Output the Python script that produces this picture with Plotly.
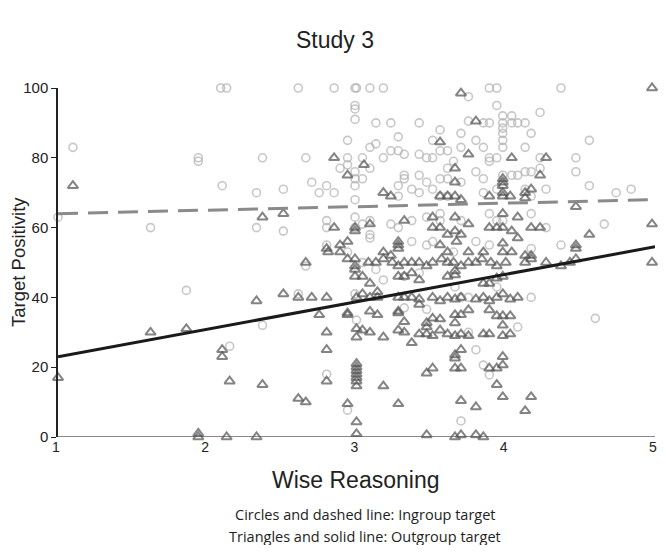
import plotly.graph_objects as go

# Ingroup target (circles)
in_x = [1.0,1.1,1.62,1.94,1.94,2.09,2.13,2.10,2.33,2.33,2.37,2.51,2.51,2.61,2.66,2.70,2.75,2.80,2.80,2.80,2.80,2.85,2.85,
        1.86,2.15,2.37,2.61,2.66,2.80,
        2.99,3.0,3.09,3.18,2.99,2.99,2.99,3.13,3.23,2.94,3.13,3.09,3.28,3.23,3.28,3.32,3.18,2.94,3.04,2.89,2.94,3.09,2.99,3.04,2.99,3.32,3.32,
        2.99,3.28,3.37,2.99,3.28,2.99,2.99,3.04,3.09,3.09,3.09,3.23,3.28,3.37,2.94,3.37,
        3.89,3.94,3.75,3.94,3.42,3.75,3.85,3.89,3.98,4.04,3.98,4.04,4.08,4.13,3.98,3.98,3.56,3.70,3.51,3.56,3.61,3.80,3.98,3.98,3.85,3.70,4.13,
        3.42,3.47,3.51,3.65,3.61,3.89,3.89,3.94,3.80,3.85,3.98,4.04,4.08,3.42,3.47,3.56,3.61,3.70,3.42,3.94,3.56,3.61,3.51,3.85,4.13,
        3.47,3.56,3.56,3.70,3.89,3.94,3.98,3.80,3.47,3.51,3.65,3.89,
        4.37,4.23,4.17,4.56,4.23,4.47,4.17,4.23,4.47,4.13,4.56,4.27,4.17,4.74,4.84,4.17,4.27,4.66,4.17,4.37,
        3.04,3.13,3.18,3.32,2.99,3.0,2.94,
        3.42,3.66,3.94,3.70,3.75,3.32,3.47,4.08,3.75,3.80,3.85,3.89,3.70,
        4.17,4.60]
in_y = [63,83,60,80,79,100,100,72,70,60,80,71,59,100,80,73,70,72,62,60,55,100,70,
        42,26,32,41,49,18,
        100,100,100,100,95,94,91,90,90,85,84,83,86,82,82,81,80,80,80,77,78,77,76,74,74,75,74,
        72,72,71,68,69,63,60,61,62,58,57,61,60,62,53,56,
        100,100,97.5,95,90,90.5,90,90,92,92,90,90,90,90,88.5,87,88,87,85,82,82,85,85,83,83,83,83,
        81,80,80,79,77,80,79,80,76,74,75,75,75,75,73,74,74,73,70,71,69,69,71,70,71,
        63,64,62,62,64,62,62,56,55,56,53,55,
        100,93,87,85,80,80,76,77,76,76,72,71,69,70,71,64,60,61,54,55,
        50,48,45,46,41,33.5,7.7,
        47,43,43,40,40,37,36.6,31.5,30,25,20.6,17.8,4.6,
        40,34]

# Outgroup target (triangles)
out_x = [1.10,2.37,2.51,2.66,2.80,2.85,2.85,
         1.0,1.62,1.86,1.94,1.94,2.10,2.10,2.15,2.13,2.33,2.33,2.37,2.51,2.61,2.61,2.66,2.70,2.75,2.80,2.80,2.80,2.80,
         3.05,2.94,3.18,3.23,2.99,2.99,3.09,3.32,3.28,3.28,3.28,2.89,3.18,3.23,
         3.70,3.80,3.56,3.75,4.04,3.66,3.66,3.98,3.98,3.98,3.98,3.56,3.61,3.66,3.70,3.89,3.98,4.03,4.13,4.13,
         3.51,3.66,3.98,4.08,3.51,3.56,3.61,3.66,3.70,3.75,3.89,3.94,3.98,4.04,4.08,3.98,3.56,3.61,3.75,3.85,3.98,4.04,4.17,
         4.98,4.27,4.23,4.17,4.47,4.23,4.56,4.47,4.47,4.98,4.13,4.17,
         2.81,2.89,2.94,3.67,
         2.94,2.99,3.08,3.13,3.18,3.24,3.28,3.32,3.37,3.42,3.47,3.51,3.57,3.61,3.65,3.70,3.75,3.80,3.84,3.90,3.94,4.00,4.13,4.17,4.27,4.37,4.43,4.47,4.98,
         2.99,2.99,2.99,3.04,3.09,3.14,3.28,3.32,
         3.0,3.04,3.09,3.14,3.28,3.32,3.37,
         2.94,2.94,3.09,3.14,3.28,3.28,3.32,
         3.0,3.04,3.09,3.18,3.28,3.32,3.0,3.37,
         3.0,3.0,3.0,3.0,3.0,3.0,3.0,3.18,2.94,3.28,3.0,3.0,
         3.66,3.66,3.37,3.42,3.61,3.89,3.94,3.98,3.85,
         3.42,3.51,3.56,3.61,3.66,3.70,3.80,3.85,3.89,3.94,3.98,4.03,4.08,
         3.42,3.75,3.89,3.51,3.56,3.47,3.47,3.66,3.70,3.66,3.94,3.98,4.03,3.56,
         3.42,3.47,3.51,3.61,3.66,3.70,3.75,3.85,3.89,3.98,3.98,4.03,
         3.70,3.66,3.66,3.98,3.98,3.47,3.51,3.66,3.70,3.89,3.94,3.94,3.98,4.17,3.70,3.80,4.13,
         3.47,3.66,3.70,3.80,3.85,
         4.13,4.23,4.37,4.66,4.74,4.13,4.17,4.23,4.60,4.84,4.56]
out_y = [72,63,64,50,54,80,60,
         17,30,31,1,0,25,23,16,0,39,0,15,41,40,11,10,40,35,40,30,25,16,
         78,75,70,69,60,59,61,62,56,55,54,55,53,52,
         98.5,90.5,84.5,81,80,77,73,74,73,72,70,69,69,69,68,69,69,69,70,68.5,
         63,63,64,63,60,60,58,59,58,61,60,60,60,59,57,55.5,55,53,53,53,53,53,60,
         100,80,75,71,66,60,58,55,54,61,52,52,
         53,53,56,56,
         51,51,50,50,51,50,49,50,50,50,49,50,51,50,50,49,50,50,51,50,49,50,50,51,50,49,50,51,50,
         49,48,46,46,44,41.6,46,46,
         40,41,40,40,40,40,40,
         35.5,35,36,35,36,35.5,33,
         31,30.6,30,28.6,30.6,30,28.6,27,
         21,20,19,18,17,16,14.6,14.6,9.5,9.5,4.3,0.9,
         47.6,46.4,47,45,46,44,45.5,46,44,
         39.5,40,39,40,39.5,40,39.5,40,39,40,41,39.5,40,
         38,36.4,36.4,34,33.8,32.7,31.5,35,35,32.7,34.7,34.7,34.7,30.6,
         29.5,29.5,29,29.5,29,29.5,29,29.5,29.5,29,32,29.5,
         25,23.5,22.6,23,20.6,18.3,19.7,19.7,19.7,19.7,19.7,15,11.5,11.5,10.4,8.6,7.5,
         0.6,0,0.6,0.6,0]

# Fitted regression lines (endpoints at x = 1 and x = 5)
fit_x = [1, 5]
in_fit = [64.0, 68.0]
out_fit = [23.0, 54.5]

x_ticks = [1, 2, 3, 4, 5]
y_ticks = [0, 20, 40, 60, 80, 100]

# The page has an 8px body margin on every side; the figure fits inside it.
OFF = 8
W, H = 666 - 2 * OFF, 553 - 2 * OFF
L, R, T = 58 - OFF, 3, 88 - OFF
B = H - (437 - OFF)
pw, ph = W - L - R, H - T - B


def px(x):
    return (x - OFF - L) / pw


def py(y):
    return (H - B - (y - OFF)) / ph


fig = go.Figure()
fig.add_trace(go.Scatter(
    x=in_x, y=in_y, mode="markers", cliponaxis=False, showlegend=False,
    marker=dict(symbol="circle-open", size=8, color="rgba(175,175,175,0.7)",
                line=dict(width=1.6, color="rgba(175,175,175,0.7)"))))
fig.add_trace(go.Scatter(
    x=out_x, y=out_y, mode="markers", cliponaxis=False, showlegend=False,
    marker=dict(symbol="triangle-up-open", size=9, color="rgba(85,85,85,0.72)",
                line=dict(width=2, color="rgba(85,85,85,0.72)"))))
fig.add_trace(go.Scatter(
    x=fit_x, y=in_fit, mode="lines", showlegend=False,
    line=dict(color="#8a8a8a", width=3, dash="20px,10px")))
fig.add_trace(go.Scatter(
    x=fit_x, y=out_fit, mode="lines", showlegend=False,
    line=dict(color="#1a1a1a", width=3)))

fig.update_layout(
    width=W, height=H,
    margin=dict(l=L, r=R, t=T, b=B, autoexpand=False),
    paper_bgcolor="white", plot_bgcolor="white",
    font=dict(family="Liberation Sans, Arial, sans-serif", color="#222"),
    xaxis=dict(range=[1, 5], tickmode="array", tickvals=x_ticks,
               ticktext=[str(v) for v in x_ticks],
               showgrid=False, zeroline=False, showline=False, ticks="",
               automargin=False, ticklabeloverflow="allow", ticklabelshift=-2,
               tickfont=dict(size=14, color="#222")),
    yaxis=dict(range=[0, 100], tickvals=y_ticks, showgrid=False, zeroline=False,
               showline=True, linecolor="#222", linewidth=1.5,
               ticks="outside", ticklen=5, tickcolor="#222", tickwidth=1.2,
               automargin=False, ticklabeloverflow="allow",
               tickfont=dict(size=15, color="#222")),
    shapes=[dict(type="line", xref="x", yref="y", x0=1, x1=5, y0=0, y1=0,
                 line=dict(color="#888", width=2), layer="below")],
    annotations=[
        dict(text="Study 3", xref="paper", yref="paper", x=px(335), y=py(40),
             xanchor="center", yanchor="middle", showarrow=False,
             font=dict(size=23, color="#222")),
        dict(text="Wise Reasoning", xref="paper", yref="paper", x=px(355), y=py(480),
             xanchor="center", yanchor="middle", showarrow=False,
             font=dict(size=23, color="#222")),
        dict(text="Target Positivity", xref="paper", yref="paper", x=px(18), y=py(262),
             xanchor="center", yanchor="middle", showarrow=False, textangle=-90,
             font=dict(size=18.5, color="#222")),
        dict(text="Circles and dashed line: Ingroup target", xref="paper", yref="paper",
             x=px(365), y=py(514), xanchor="center", yanchor="middle", showarrow=False,
             font=dict(family="Open Sans, sans-serif", size=14.5, color="#222")),
        dict(text="Triangles and solid line: Outgroup target", xref="paper", yref="paper",
             x=px(365), y=py(536), xanchor="center", yanchor="middle", showarrow=False,
             font=dict(family="Open Sans, sans-serif", size=14.5, color="#222")),
    ],
)

fig.write_html("out.html")
